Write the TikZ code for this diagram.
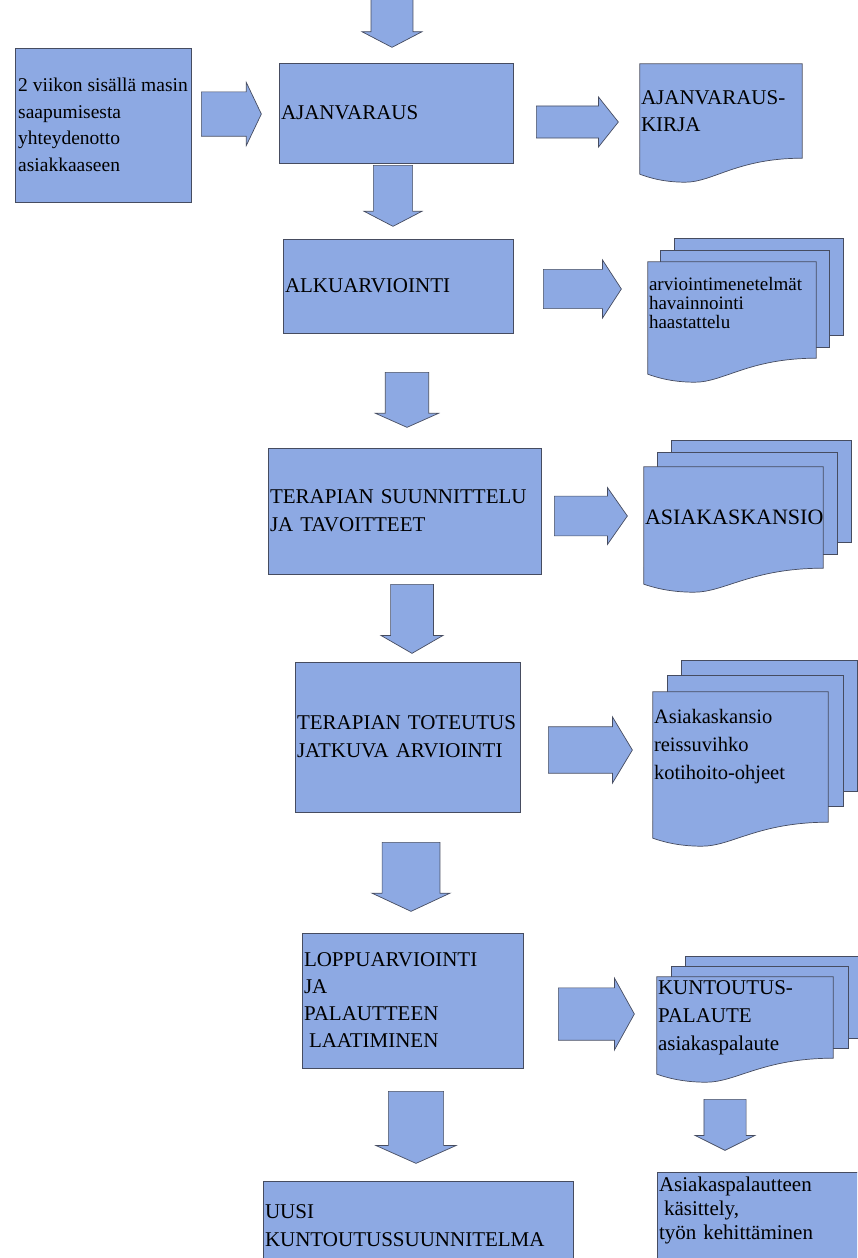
\documentclass[tikz,border=0pt]{standalone}
\usepackage{fontspec}
\setmainfont{Liberation Serif}
\usetikzlibrary{shapes.arrows, backgrounds, calc}
\definecolor{boxfill}{RGB}{141,169,227}
\definecolor{boxline}{RGB}{70,76,96}
\tikzset{
    % process boxes
    procbox/.style={rectangle, draw=boxline, fill=boxfill, line width=0.7pt,
                inner xsep=2pt, inner ysep=0pt, align=left,
                font=\fontsize{21}{27}\selectfont},
    % document pages (outline drawn after the node)
    docbox/.style={rectangle, fill=boxfill, inner xsep=1pt, inner ysep=0pt,
                align=left, font=\fontsize{21}{27}\selectfont},
    docline/.style={draw=boxline, line width=0.7pt},
    pageback/.style={draw=boxline, fill=boxfill, line width=0.7pt},
    % block arrows: length, half shaft, head width, tip angle
    blockarr/.style n args={4}{single arrow, draw=boxline, fill=boxfill,
                line width=0.7pt, minimum height=#1, inner sep=#2,
                minimum width=#3, single arrow tip angle=#4},
    rarr/.style n args={4}{blockarr={#1}{#2}{#3}{#4}, anchor=tail},
    darr/.style n args={4}{blockarr={#1}{#2}{#3}{#4},
                shape border rotate=270, anchor=tail},
}
% wavy lower edge of a document page
\newcommand{\docwave}[1]{(#1.south east)
  .. controls ($(#1.south west)!0.6!(#1.south east)$)
  and ($(#1.south west)!0.45!(#1.south east)+(0,24)$)
  .. ($(#1.south west)!0.28!(#1.south east)+(0,24)$)
  .. controls ($(#1.south west)!0.14!(#1.south east)+(0,24)$)
  and ($(#1.south west)!0.05!(#1.south east)+(0,19)$)
  .. ($(#1.south west)+(0,16)$)}

\begin{document}
\begin{tikzpicture}[x=1pt, y=-1pt]
\useasboundingbox (0,0) rectangle (857,1258);
\clip (0,0) rectangle (857,1258);

% process boxes
\node[procbox, minimum width=176pt, minimum height=154pt, inner xsep=0pt,
      font=\fontsize{19.5}{26.5}\selectfont] (info) at (103,125)
      {2 viikon sisällä masin\\saapumisesta\\yhteydenotto\\asiakkaaseen};
\node[procbox, minimum width=234pt, minimum height=100pt, text width=230pt] (ajan) at (396,113) {AJANVARAUS};
\node[procbox, minimum width=230pt, minimum height=94pt, text width=226pt] (alku) at (398,286) {ALKUARVIOINTI};
\node[procbox, minimum width=273pt, minimum height=126pt, text width=269pt, font=\fontsize{21}{28}\selectfont] (suun) at (404.5,511)
      {TERAPIAN SUUNNITTELU\\JA TAVOITTEET};
\node[procbox, minimum width=225pt, minimum height=150pt, text width=221pt, font=\fontsize{21}{28}\selectfont] (tot) at (407.5,737)
      {TERAPIAN TOTEUTUS\\JATKUVA ARVIOINTI};
\node[procbox, minimum width=221pt, minimum height=135pt, text width=217pt] (loppu) at (412.5,1000.5)
      {LOPPUARVIOINTI\\JA\\PALAUTTEEN\\\hspace*{5pt}LAATIMINEN};
\node[procbox, minimum width=310pt, minimum height=90pt, text width=306pt, font=\fontsize{21}{28}\selectfont] (uusi) at (418,1226)
      {UUSI\\KUNTOUTUSSUUNNITELMA};
\node[procbox, minimum width=213pt, minimum height=90pt, text width=209pt, font=\fontsize{21}{24}\selectfont,
      text depth=65pt] (kasit) at (763.5,1217)
      {Asiakaspalautteen\\\hspace*{5pt}käsittely,\\työn kehittäminen};

% documents
\node[docbox, minimum width=162pt, minimum height=94pt, text width=160pt] (kirja) at (721,111) {AJANVARAUS-\\KIRJA};
\node[docbox, minimum width=168pt, minimum height=96pt, text width=166pt, font=\fontsize{19}{19}\selectfont,
      text depth=52pt] (menet) at (732,310) {arviointimenetelmät\\havainnointi\\haastattelu};
\node[docbox, minimum width=179pt, minimum height=101pt, text width=177pt, font=\fontsize{22}{27}\selectfont] (kansio) at (733.5,517.5) {ASIAKASKANSIO};
\node[docbox, minimum width=175pt, minimum height=130pt, text width=173pt, font=\fontsize{20.5}{28}\selectfont,
      text depth=81pt] (ohjeet) at (740.5,757) {Asiakaskansio\\reissuvihko\\kotihoito-ohjeet};
\node[docbox, minimum width=176pt, minimum height=81pt, text width=174pt, font=\fontsize{21}{28}\selectfont] (palaute) at (745,1017.5)
      {KUNTOUTUS-\\PALAUTE\\asiakaspalaute};

\foreach \d in {kirja, menet, kansio, ohjeet, palaute} {
  \fill[boxfill] \docwave{\d} -- ($(\d.south west)+(0,-1)$) -- ($(\d.south east)+(0,-1)$) -- cycle;
  \draw[docline] (\d.north west) -- (\d.north east) -- \docwave{\d} -- cycle;
}

% pages behind the documents
\begin{scope}[on background layer]
\foreach \d/\dx/\dy in {menet/27/23, kansio/28/26, ohjeet/29/31, palaute/29/20,
                        menet/13/11, kansio/14/14, ohjeet/15/16, palaute/15/10}
  \draw[pageback] ($(\d.north west)+(\dx,-\dy)$) rectangle ($(\d.south east)+(\dx,-\dy)$);
\end{scope}

% block arrows
\node[darr={57pt}{16pt}{60pt}{125}] (a0) at (392,-10) {};
\node[rarr={60pt}{16.5pt}{63pt}{129}] (a1) at (201,114) {};
\node[rarr={82pt}{12.5pt}{50pt}{103}] (a2) at (536,122) {};
\node[darr={61pt}{14.5pt}{58pt}{125}] (d1) at (393,165) {};
\node[rarr={78pt}{14.5pt}{58pt}{114}] (a3) at (543,289) {};
\node[darr={55pt}{15.5pt}{63pt}{132}] (d2) at (407,372) {};
\node[rarr={73pt}{16pt}{57pt}{110}] (a4) at (554,516) {};
\node[darr={69pt}{15.5pt}{62pt}{120}] (d3) at (412,584) {};
\node[rarr={84pt}{16.5pt}{66pt}{118}] (a5) at (548,750) {};
\node[darr={69pt}{20pt}{78pt}{130}] (d4) at (411,842) {};
\node[rarr={76pt}{18.5pt}{72pt}{122}] (a6) at (558,1014) {};
\node[darr={72pt}{15.5pt}{80pt}{132}] (d5) at (416,1091) {};
\node[darr={51pt}{16.5pt}{60pt}{127}] (d6) at (725,1099) {};
\end{tikzpicture}
\end{document}
